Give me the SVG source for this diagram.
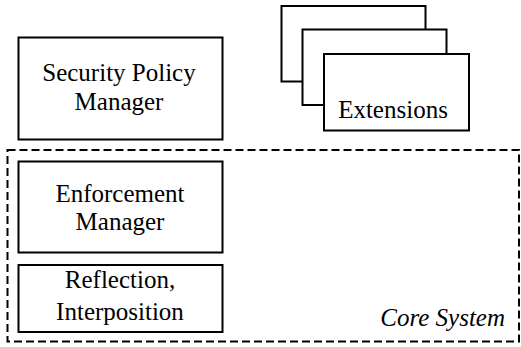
<svg xmlns="http://www.w3.org/2000/svg" width="521" height="347" viewBox="0 0 521 347">
<style>
.box{fill:#fff;stroke:#000;stroke-width:2}
.dash{fill:none;stroke:#000;stroke-width:2;stroke-dasharray:8 4}
</style>
<rect width="521" height="347" fill="#fff"/>
<g id="core-system">
<rect class="dash" x="7.5" y="150" width="511.5" height="191.5"/>
<text font-family="Liberation Serif, serif" font-size="25" x="505" y="325.5" text-anchor="end" font-style="italic">Core System</text>
</g>
<g id="security-policy-manager">
<rect class="box" x="18.5" y="37.5" width="204" height="102"/>
<text font-family="Liberation Serif, serif" font-size="25" text-anchor="middle" x="119" y="81">Security Policy</text>
<text font-family="Liberation Serif, serif" font-size="25" text-anchor="middle" x="119" y="109.5">Manager</text>
</g>
<g id="enforcement-manager">
<rect class="box" x="18.5" y="161.5" width="204" height="91"/>
<text font-family="Liberation Serif, serif" font-size="25" text-anchor="middle" x="120" y="201.5">Enforcement</text>
<text font-family="Liberation Serif, serif" font-size="25" text-anchor="middle" x="120" y="230">Manager</text>
</g>
<g id="reflection-interposition">
<rect class="box" x="18.5" y="265" width="204" height="67"/>
<text font-family="Liberation Serif, serif" font-size="25" text-anchor="middle" x="120" y="288">Reflection,</text>
<text font-family="Liberation Serif, serif" font-size="25" text-anchor="middle" x="120" y="320">Interposition</text>
</g>
<g id="extensions">
<rect class="box" x="281.5" y="6" width="144" height="75.5"/>
<rect class="box" x="302.5" y="29.5" width="144" height="75.5"/>
<rect class="box" x="324" y="54" width="145" height="76.5"/>
<text font-family="Liberation Serif, serif" font-size="25" text-anchor="middle" x="393" y="117.5">Extensions</text>
</g>
<g id="connectors"></g>
</svg>
